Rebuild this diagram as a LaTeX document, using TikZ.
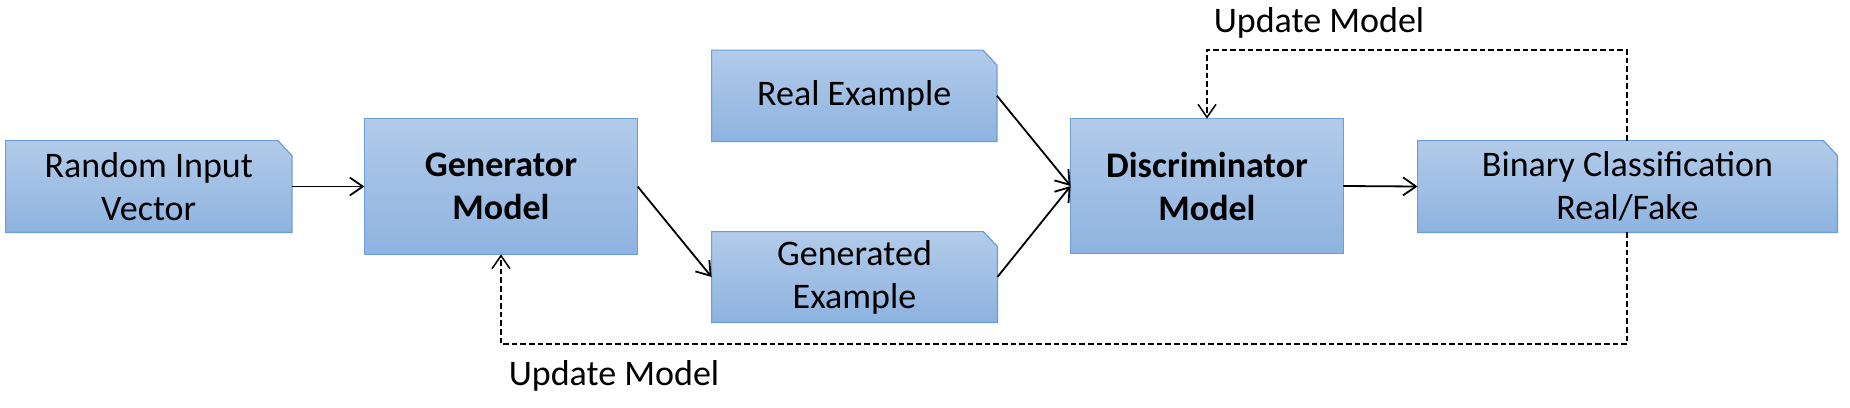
\documentclass[tikz,border=0pt]{standalone}
\usepackage{fontspec}
\setmainfont{Carlito}
\usetikzlibrary{arrows.meta,backgrounds}
\definecolor{boxtop}{HTML}{B2CBE9}
\definecolor{boxbot}{HTML}{8EB3E0}
\definecolor{boxline}{HTML}{6C9DDA}
\tikzset{
  blk/.style={inner sep=0pt, align=center, font=\fontsize{18}{21.5}\selectfont, text=black},
  arr/.style={line width=0.9pt, -{Straight Barb[length=6.5pt,width=9pt,line width=0.9pt]}},
  fb/.style={line width=0.75pt, dash pattern=on 2.8pt off 1.5pt, -{Straight Barb[length=6.5pt,width=9pt,line width=0.75pt]}},
  shade box/.style={top color=boxtop, bottom color=boxbot, draw=boxline, line width=0.6pt},
  lbl/.style={font=\fontsize{18}{21.5}\selectfont, inner sep=0pt}
}
\newcommand{\cutbox}[1]{%
  \path[shade box] (#1.south west) -- (#1.north west) -- ([xshift=-7pt]#1.north east) -- ([yshift=-7.5pt]#1.north east) -- (#1.south east) -- cycle;}
\newcommand{\plainbox}[1]{%
  \path[shade box] (#1.south west) rectangle (#1.north east);}
\begin{document}
\begin{tikzpicture}[x=0.5pt,y=-0.5pt]
\useasboundingbox (0,0) rectangle (1850,407);
\node[blk, minimum width=142.75pt, minimum height=45.5pt] (rnd) at (148.75,186.5) {Random Input\\Vector};
\node[blk, minimum width=136.25pt, minimum height=67.5pt, font=\fontsize{18}{21.5}\selectfont\bfseries] (gen) at (501,186.5) {Generator\\Model};
\node[blk, minimum width=142.25pt, minimum height=45.25pt] (real) at (854.25,95.75) {Real Example};
\node[blk, minimum width=142.5pt, minimum height=45pt] (gend) at (854.5,277) {Generated\\Example};
\node[blk, minimum width=136pt, minimum height=67pt, font=\fontsize{18}{21.5}\selectfont\bfseries] (disc) at (1207,186) {Discriminator\\Model};
\node[blk, minimum width=209.5pt, minimum height=45.5pt] (bin) at (1627.5,186.5) {Binary Classification\\Real/Fake};
\begin{scope}[on background layer]
\fill[white] (0,0) rectangle (1850,407);
\cutbox{rnd}
\plainbox{gen}
\cutbox{real}
\cutbox{gend}
\plainbox{disc}
\cutbox{bin}
\end{scope}
\draw[arr] (rnd.east) -- (gen.west);
\draw[arr] (gen.east) -- (gend.west);
\draw[arr] (real.east) -- (disc.west);
\draw[arr] (gend.east) -- (disc.west);
\draw[arr] (disc.east) -- (bin.west);
\coordinate (tr) at (1627,50);
\coordinate (tl) at (1207,50);
\coordinate (br) at (1627,344);
\coordinate (bl) at (501,344);
\draw[fb] (bin.north -| tr) -- (tr) -- (tl) -- (disc.north -| tl);
\draw[fb] (bin.south -| br) -- (br) -- (bl) -- (gen.south -| bl);
\node[lbl] (ltop) at (1319,23) {Update Model};
\node[lbl] (lbot) at (614,376) {Update Model};
\end{tikzpicture}
\end{document}
